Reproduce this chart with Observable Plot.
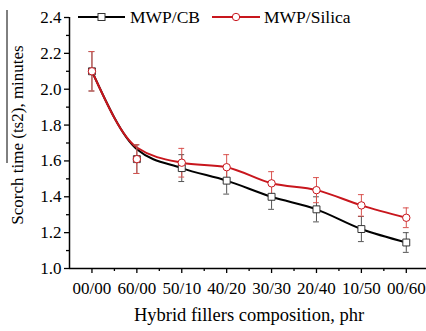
<!DOCTYPE html>
<html>
<head>
<meta charset="utf-8">
<script src="https://cdn.jsdelivr.net/npm/d3@7"></script>
<script src="https://cdn.jsdelivr.net/npm/@observablehq/plot@0.6"></script>
<style>
  html, body { margin: 0; padding: 0; background: #fff; }
  #chart svg { display: block; }
</style>
</head>
<body>
<div id="chart"></div>
<script>
// ---- data ----
const categories = ["00/00", "60/00", "50/10", "40/20", "30/30", "20/40", "10/50", "00/60"];
const seriesNames = ["MWP/CB", "MWP/Silica"];
const cbValues     = [2.10, 1.61, 1.56, 1.49, 1.40, 1.33, 1.22, 1.145];
const cbErr        = [0.11, 0.08, 0.075, 0.075, 0.07, 0.07, 0.07, 0.055];
const silicaValues = [2.10, 1.61, 1.59, 1.565, 1.475, 1.437, 1.352, 1.283];
const silicaErr    = [0.11, 0.08, 0.08, 0.07, 0.065, 0.07, 0.06, 0.055];
// smoothed fit curves drawn through the points (values at each category)
const cbCurve      = [2.10, 1.665, 1.56, 1.49, 1.40, 1.33, 1.22, 1.145];
const silicaCurve  = [2.10, 1.675, 1.59, 1.565, 1.475, 1.437, 1.352, 1.283];
const yTicks = [1.0, 1.2, 1.4, 1.6, 1.8, 2.0, 2.2, 2.4];
const yMinorTicks = [1.1, 1.3, 1.5, 1.7, 1.9, 2.1, 2.3];
const xTitle = "Hybrid fillers composition, phr";
const yTitle = "Scorch time (ts2), minutes";

// ---- tables ----
const cb = categories.map((c, i) => ({i, c, y: cbValues[i], e: cbErr[i], fit: cbCurve[i]}));
const si = categories.map((c, i) => ({i, c, y: silicaValues[i], e: silicaErr[i], fit: silicaCurve[i]}));

const RED = "#c8161d";
const RED_ERR = "#d9534f";
const BLK_ERR = "#555555";
const cap = 0.065;
const FONT = "'Liberation Serif', 'Times New Roman', serif";

const chart = Plot.plot({
  width: 426,
  height: 331,
  marginLeft: 69,
  marginRight: 0,
  marginTop: 17,
  marginBottom: 63,
  style: {fontSize: "17px", color: "#000", background: "#fff", overflow: "visible"},
  x: {type: "linear", domain: [-0.5, 7.45], axis: null},
  y: {domain: [1.0, 2.4], axis: null},
  marks: [
    // axes
    Plot.axisY(yTicks, {tickSize: 5, tickPadding: 3, tickFormat: d3.format(".1f"), fontSize: 17, label: null, strokeWidth: 1.3}),
    Plot.axisY(yMinorTicks, {tickSize: 3, tickFormat: () => "", label: null, strokeWidth: 1.3}),
    Plot.axisX(d3.range(categories.length), {tickSize: 5, tickPadding: 8, tickFormat: i => categories[i], fontSize: 17, label: null, strokeWidth: 1.3}),
    Plot.axisX(d3.range(categories.length - 1).map(i => i + 0.5), {tickSize: 3, tickFormat: () => "", label: null, strokeWidth: 1.3}),
    Plot.ruleX([-0.5], {stroke: "#000", strokeWidth: 1.5}),
    Plot.ruleY([1.0], {stroke: "#000", strokeWidth: 1.5}),
    // fitted curves
    Plot.line(cb, {x: "i", y: "fit", curve: "monotone-x", stroke: "#000", strokeWidth: 2}),
    Plot.line(si, {x: "i", y: "fit", curve: "monotone-x", stroke: RED, strokeWidth: 2}),
    // error bars CB
    Plot.ruleX(cb, {x: "i", y1: d => d.y - d.e, y2: d => d.y + d.e, stroke: BLK_ERR, strokeWidth: 1}),
    Plot.ruleY(cb, {y: d => d.y - d.e, x1: d => d.i - cap, x2: d => d.i + cap, stroke: BLK_ERR, strokeWidth: 1}),
    Plot.ruleY(cb, {y: d => d.y + d.e, x1: d => d.i - cap, x2: d => d.i + cap, stroke: BLK_ERR, strokeWidth: 1}),
    // error bars Silica
    Plot.ruleX(si, {x: "i", y1: d => d.y - d.e, y2: d => d.y + d.e, stroke: RED_ERR, strokeWidth: 1}),
    Plot.ruleY(si, {y: d => d.y - d.e, x1: d => d.i - cap, x2: d => d.i + cap, stroke: RED_ERR, strokeWidth: 1}),
    Plot.ruleY(si, {y: d => d.y + d.e, x1: d => d.i - cap, x2: d => d.i + cap, stroke: RED_ERR, strokeWidth: 1}),
    // markers
    Plot.dot(cb, {x: "i", y: "y", symbol: "square", r: 3.9, fill: "#fff", stroke: "#333", strokeWidth: 1}),
    Plot.dot(si, {x: "i", y: "y", symbol: "circle", r: 3.7, fill: "#fff", stroke: RED, strokeWidth: 1})
  ]
});

document.getElementById("chart").appendChild(chart);

// ---- titles and legend ----
const svg = d3.select(chart);

svg.append("text")
  .attr("x", 249).attr("y", 321)
  .attr("text-anchor", "middle")
  .attr("font-size", 18.5).attr("fill", "#000")
  .text(xTitle);

svg.append("text")
  .attr("transform", "translate(23,135) rotate(-90)")
  .attr("text-anchor", "middle")
  .attr("font-size", 17).attr("fill", "#000")
  .text(yTitle);
// overline artifact next to the y title
svg.append("line").attr("x1", 7).attr("x2", 7).attr("y1", 10).attr("y2", 163)
  .attr("stroke", "#000").attr("stroke-width", 1);

// legend
const legend = [
  {name: seriesNames[0], color: "#000", sym: "square", x0: 78, x1: 125, tx: 130},
  {name: seriesNames[1], color: RED, sym: "circle", x0: 212, x1: 260, tx: 264}
];
const ly = 17;
legend.forEach(l => {
  svg.append("line").attr("x1", l.x0).attr("x2", l.x1).attr("y1", ly).attr("y2", ly)
    .attr("stroke", l.color).attr("stroke-width", 2);
  const cx = (l.x0 + l.x1) / 2;
  if (l.sym === "square") {
    svg.append("rect").attr("x", cx - 3.5).attr("y", ly - 3.5).attr("width", 7).attr("height", 7)
      .attr("fill", "#fff").attr("stroke", "#333").attr("stroke-width", 1);
  } else {
    svg.append("circle").attr("cx", cx).attr("cy", ly).attr("r", 3.7)
      .attr("fill", "#fff").attr("stroke", RED).attr("stroke-width", 1);
  }
  svg.append("text").attr("x", l.tx).attr("y", ly + 6)
    .attr("text-anchor", "start")
    .attr("font-size", 17.5).attr("fill", "#000")
    .text(l.name);
});

// force the serif face on every text element (inline style wins over any stylesheet)
svg.selectAll("text").style("font-family", FONT);
svg.style("font-family", FONT);
</script>
</body>
</html>
